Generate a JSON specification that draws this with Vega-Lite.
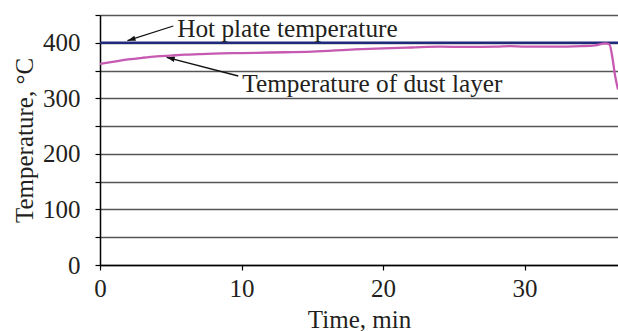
{
  "$schema": "https://vega.github.io/schema/vega-lite/v6.json",
  "width": 518,
  "height": 250,
  "autosize": {"type": "none"},
  "padding": {"left": 100, "top": 15, "right": 0, "bottom": 66},
  "config": {
    "view": {"stroke": null},
    "font": "Liberation Serif",
    "axis": {
      "labelFont": "Liberation Serif",
      "titleFont": "Liberation Serif",
      "labelFontSize": 25,
      "titleFontSize": 25,
      "titleFontWeight": "normal",
      "labelColor": "#231f20",
      "titleColor": "#231f20",
      "domainColor": "#000",
      "domainWidth": 1.5,
      "tickColor": "#000",
      "tickWidth": 1.2,
      "tickSize": 5,
      "labelOverlap": false
    }
  },
  "datasets": {
    "plate": [
      {"t": 0, "temp": 400},
      {"t": 36.6, "temp": 400}
    ],
    "dust": [
      {"t": 0, "temp": 362},
      {"t": 1, "temp": 366},
      {"t": 2, "temp": 370},
      {"t": 3, "temp": 373},
      {"t": 4, "temp": 375.5},
      {"t": 5, "temp": 377},
      {"t": 6, "temp": 378.5},
      {"t": 7, "temp": 379.5},
      {"t": 8, "temp": 380.5},
      {"t": 10, "temp": 381.5},
      {"t": 12, "temp": 382.5},
      {"t": 15, "temp": 384},
      {"t": 18, "temp": 388},
      {"t": 20, "temp": 390},
      {"t": 22, "temp": 391.5},
      {"t": 24, "temp": 393},
      {"t": 26, "temp": 392.5},
      {"t": 28, "temp": 393},
      {"t": 29, "temp": 394},
      {"t": 30, "temp": 393},
      {"t": 32, "temp": 393},
      {"t": 34, "temp": 394},
      {"t": 35, "temp": 395.5},
      {"t": 35.7, "temp": 399},
      {"t": 36.0, "temp": 397},
      {"t": 36.2, "temp": 374},
      {"t": 36.4, "temp": 340},
      {"t": 36.6, "temp": 316}
    ],
    "arrows": [
      {"label": "Hot plate temperature", "x": 5.18, "y": 430.2, "x2": 1.94, "y2": 403.7, "tx": 5.45, "ty": 410.9},
      {"label": "Temperature of dust layer", "x": 9.77, "y": 340.2, "x2": 4.71, "y2": 373.8, "tx": 10.05, "ty": 311.9}
    ]
  },
  "layer": [
    {
      "data": {"name": "plate"},
      "mark": {"type": "line", "color": "#1f2a7a", "strokeWidth": 2.5, "clip": true},
      "encoding": {
        "x": {
          "field": "t", "type": "quantitative",
          "scale": {"domain": [0, 36.6], "nice": false},
          "axis": {"values": [0, 10, 20, 30], "tickCount": 20, "grid": false, "title": "Time, min", "labelPadding": 6, "titlePadding": 6, "labelFlush": false}
        },
        "y": {
          "field": "temp", "type": "quantitative",
          "scale": {"domain": [0, 450], "nice": false},
          "axis": {
            "values": [0, 50, 100, 150, 200, 250, 300, 350, 400, 450],
            "tickCount": 20,
            "labelExpr": "datum.value % 100 === 0 ? datum.label : ''",
            "grid": true, "gridColor": "#555", "gridWidth": 1.3,
            "title": "Temperature, °C", "labelPadding": 15, "titlePadding": 5
          }
        }
      }
    },
    {
      "data": {"name": "dust"},
      "mark": {"type": "line", "color": "#c659b2", "strokeWidth": 2.3, "clip": true, "interpolate": "monotone"},
      "encoding": {
        "x": {"field": "t", "type": "quantitative"},
        "y": {"field": "temp", "type": "quantitative"}
      }
    },
    {
      "data": {"name": "arrows"},
      "mark": {"type": "rule", "color": "#111", "strokeWidth": 1.3},
      "encoding": {
        "x": {"field": "x", "type": "quantitative"},
        "y": {"field": "y", "type": "quantitative"},
        "x2": {"field": "x2"},
        "y2": {"field": "y2"}
      }
    },
    {
      "data": {"name": "arrows"},
      "transform": [{"filter": "datum.label === 'Hot plate temperature'"}],
      "mark": {"type": "point", "shape": "M0,0L-0.33,1L0.33,1Z", "filled": true, "color": "#111", "opacity": 1, "size": 260, "angle": 252.3},
      "encoding": {
        "x": {"field": "x2", "type": "quantitative"},
        "y": {"field": "y2", "type": "quantitative"}
      }
    },
    {
      "data": {"name": "arrows"},
      "transform": [{"filter": "datum.label === 'Temperature of dust layer'"}],
      "mark": {"type": "point", "shape": "M0,0L-0.33,1L0.33,1Z", "filled": true, "color": "#111", "opacity": 1, "size": 260, "angle": 284.6},
      "encoding": {
        "x": {"field": "x2", "type": "quantitative"},
        "y": {"field": "y2", "type": "quantitative"}
      }
    },
    {
      "data": {"name": "arrows"},
      "mark": {"type": "text", "align": "left", "baseline": "alphabetic", "font": "Liberation Serif", "fontSize": 25.3, "color": "#231f20"},
      "encoding": {
        "x": {"field": "tx", "type": "quantitative"},
        "y": {"field": "ty", "type": "quantitative"},
        "text": {"field": "label"}
      }
    }
  ]
}
